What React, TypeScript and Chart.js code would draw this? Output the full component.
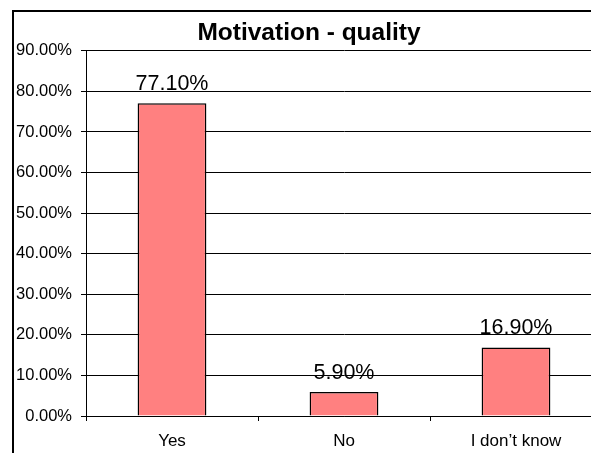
import React, { useEffect, useRef } from "react";
import { Chart, registerables } from "chart.js";

Chart.register(...registerables);

const categories = ["Yes", "No", "I don\u2019t know"];
const values = [77.1, 5.9, 16.9];
const yMax = 90;
const yStep = 10;
const titleText = "Motivation - quality";

const FONT = "'Liberation Sans', Arial, Helvetica, sans-serif";

export default function App() {
  const ref = useRef<HTMLCanvasElement | null>(null);

  useEffect(() => {
    if (!ref.current) return;

    const borderPlugin = {
      id: "outerBorder",
      beforeDraw(chart: any) {
        const ctx = chart.ctx;
        ctx.save();
        ctx.fillStyle = "#fff";
        ctx.fillRect(0, 0, chart.width, chart.height);
        ctx.strokeStyle = "#000";
        ctx.lineWidth = 2;
        ctx.strokeRect(13, 11, 593, 500);
        ctx.restore();
      },
    };

    const labelPlugin = {
      id: "barValueLabels",
      afterDatasetsDraw(chart: any) {
        const ctx = chart.ctx;
        const meta = chart.getDatasetMeta(0);
        ctx.save();
        ctx.font = `21.5px ${FONT}`;
        ctx.fillStyle = "#000";
        ctx.textAlign = "center";
        ctx.textBaseline = "alphabetic";
        meta.data.forEach((bar: any, i: number) => {
          const v = chart.data.datasets[0].data[i] as number;
          ctx.fillText(v.toFixed(2) + "%", bar.x, bar.y - 13.5);
        });
        ctx.restore();
      },
    };

    const chart = new Chart(ref.current, {
      type: "bar",
      data: {
        labels: categories,
        datasets: [
          {
            data: values,
            backgroundColor: "#FF8080",
            borderColor: "#000",
            borderWidth: 1.5,
            barPercentage: 0.4,
            categoryPercentage: 1,
          },
        ],
      },
      options: {
        responsive: false,
        animation: false,
        devicePixelRatio: 1,
        layout: { padding: { left: 16, right: 18, top: 0, bottom: 0 } },
        plugins: {
          legend: { display: false },
          tooltip: { enabled: false },
          title: {
            display: true,
            text: titleText,
            color: "#000",
            font: { family: FONT, size: 24.5, weight: "bold", lineHeight: 1.2 },
            padding: { top: 18.5, bottom: 2.9 },
          },
        },
        scales: {
          x: {
            grid: {
              display: true,
              offset: true,
              drawOnChartArea: false,
              drawTicks: true,
              tickLength: 5,
              color: "#000",
            },
            border: { display: true, color: "#000", width: 1 },
            ticks: {
              color: "#000",
              font: { family: FONT, size: 17 },
              padding: 10,
              maxRotation: 0,
              autoSkip: false,
            },
            afterFit(scale: any) {
              scale.height = 37;
            },
          },
          y: {
            min: 0,
            max: yMax,
            grid: {
              display: true,
              drawOnChartArea: true,
              drawTicks: true,
              tickLength: 5,
              color: "#000",
            },
            border: { display: true, color: "#000", width: 1 },
            ticks: {
              stepSize: yStep,
              color: "#000",
              font: { family: FONT, size: 16.5 },
              padding: 9,
              callback: (v: any) => Number(v).toFixed(2) + "%",
            },
            afterFit(scale: any) {
              scale.width = 70;
            },
          },
        },
      },
      plugins: [borderPlugin, labelPlugin],
    });

    return () => chart.destroy();
  }, []);

  return (
    <div
      style={{
        position: "fixed",
        left: 0,
        top: 0,
        width: 591,
        height: 453,
        overflow: "hidden",
        background: "#fff",
      }}
    >
      <canvas ref={ref} width={620} height={453} style={{ display: "block" }} />
    </div>
  );
}
